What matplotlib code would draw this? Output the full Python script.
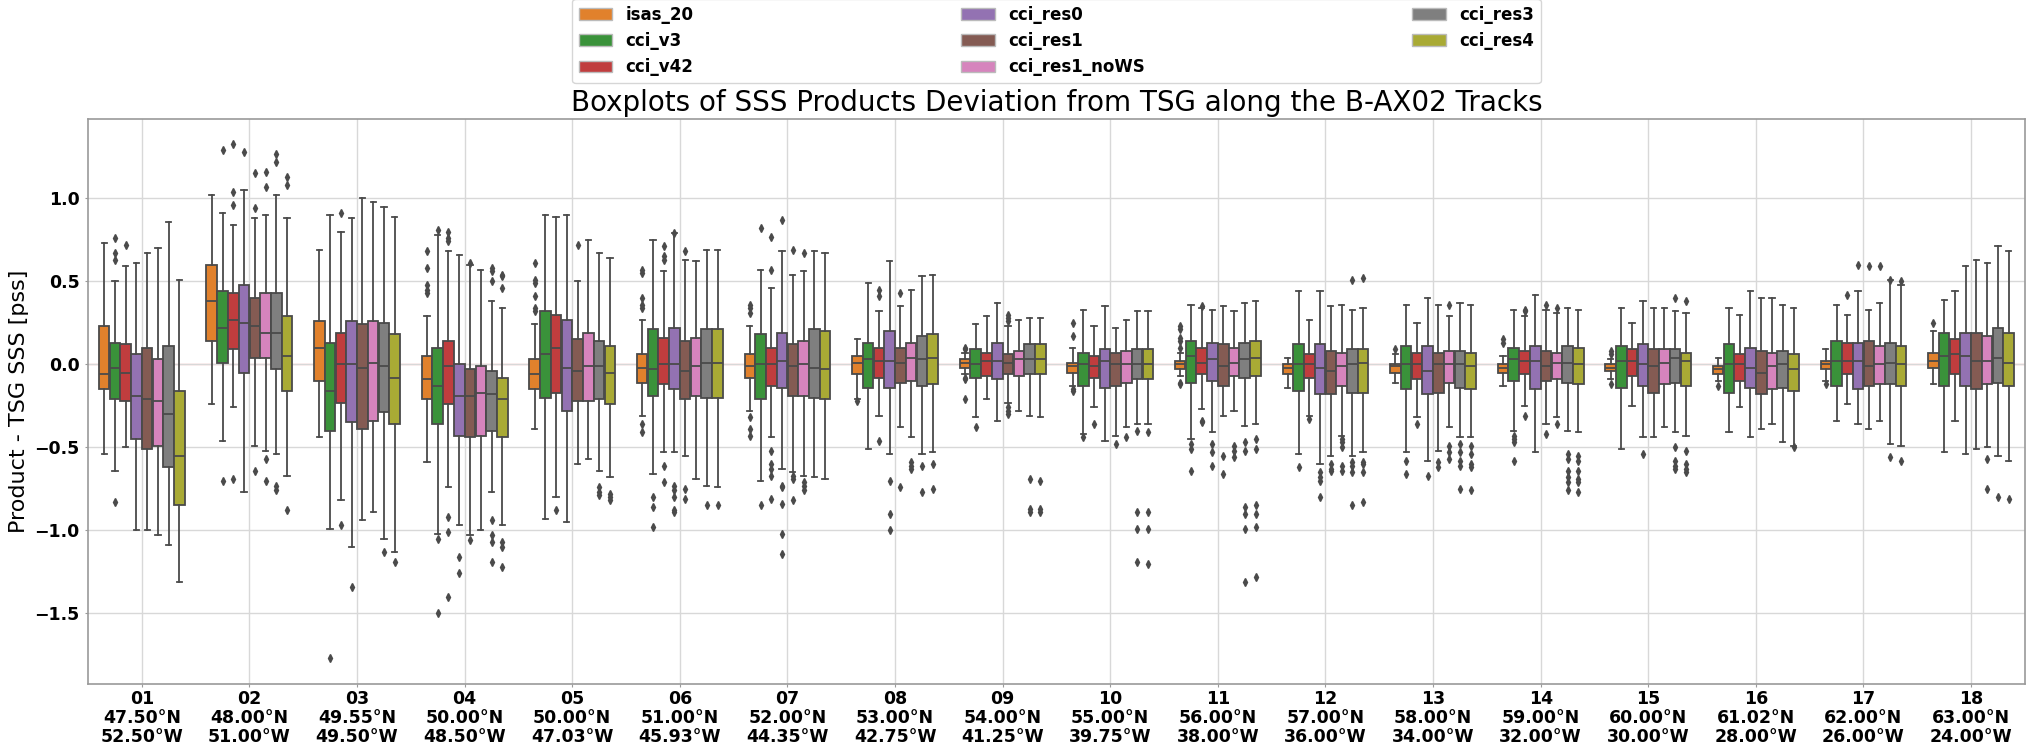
import numpy as np
import matplotlib
matplotlib.use("Agg")
import matplotlib.pyplot as plt
from matplotlib.patches import Patch

# -- Products and tracks --
PRODUCTS = ["isas_20", "cci_v3", "cci_v42", "cci_res0",
            "cci_res1", "cci_res1_noWS", "cci_res3", "cci_res4"]
COLORS = ["#e1812c", "#3a923a", "#c03d3e", "#9372b2",
          "#845b53", "#d684bd", "#7f7f7f", "#a9aa35"]

TRACKS = ["01", "02", "03", "04", "05", "06", "07", "08", "09",
          "10", "11", "12", "13", "14", "15", "16", "17", "18"]
LATS = ["47.50°N", "48.00°N", "49.55°N", "50.00°N", "50.00°N", "51.00°N",
        "52.00°N", "53.00°N", "54.00°N", "55.00°N", "56.00°N", "57.00°N",
        "58.00°N", "59.00°N", "60.00°N", "61.02°N", "62.00°N", "63.00°N"]
LONS = ["52.50°W", "51.00°W", "49.50°W", "48.50°W", "47.03°W", "45.93°W",
        "44.35°W", "42.75°W", "41.25°W", "39.75°W", "38.00°W", "36.00°W",
        "34.00°W", "32.00°W", "30.00°W", "28.00°W", "26.00°W", "24.00°W"]

# -- Box statistics, one row per track, one column per product --
WHI = [
    [0.73, 0.50, 0.59, 0.61, 0.67, 0.70, 0.86, 0.51],
    [1.02, 0.91, 0.84, 1.05, 0.88, 0.90, 1.02, 0.88],
    [0.69, 0.90, 0.80, 0.88, 1.00, 0.98, 0.95, 0.89],
    [0.29, 0.78, 0.68, 0.66, 0.60, 0.57, 0.38, 0.34],
    [0.24, 0.90, 0.89, 0.90, 0.50, 0.75, 0.67, 0.64],
    [0.27, 0.75, 0.56, 0.79, 0.63, 0.62, 0.69, 0.69],
    [0.23, 0.57, 0.46, 0.68, 0.54, 0.56, 0.68, 0.67],
    [0.15, 0.49, 0.32, 0.62, 0.35, 0.45, 0.53, 0.54],
    [0.07, 0.24, 0.29, 0.37, 0.23, 0.27, 0.28, 0.28],
    [0.10, 0.33, 0.23, 0.35, 0.22, 0.27, 0.32, 0.32],
    [0.07, 0.36, 0.34, 0.33, 0.35, 0.32, 0.37, 0.38],
    [0.04, 0.44, 0.27, 0.44, 0.35, 0.36, 0.33, 0.34],
    [0.06, 0.36, 0.25, 0.40, 0.36, 0.29, 0.37, 0.36],
    [0.05, 0.33, 0.29, 0.42, 0.33, 0.31, 0.34, 0.33],
    [0.03, 0.34, 0.25, 0.38, 0.34, 0.34, 0.32, 0.31],
    [0.04, 0.34, 0.30, 0.44, 0.40, 0.40, 0.36, 0.34],
    [0.09, 0.36, 0.30, 0.44, 0.33, 0.37, 0.51, 0.48],
    [0.20, 0.39, 0.44, 0.59, 0.63, 0.61, 0.71, 0.68],
]
Q3 = [
    [0.23, 0.13, 0.12, 0.06, 0.10, 0.03, 0.11, -0.16],
    [0.60, 0.44, 0.43, 0.48, 0.40, 0.43, 0.43, 0.29],
    [0.26, 0.13, 0.19, 0.26, 0.24, 0.26, 0.25, 0.18],
    [0.05, 0.10, 0.14, 0.00, -0.03, -0.01, -0.04, -0.08],
    [0.03, 0.32, 0.30, 0.27, 0.15, 0.19, 0.14, 0.11],
    [0.06, 0.21, 0.16, 0.22, 0.14, 0.16, 0.21, 0.21],
    [0.06, 0.18, 0.10, 0.19, 0.12, 0.14, 0.21, 0.20],
    [0.05, 0.13, 0.10, 0.20, 0.10, 0.13, 0.17, 0.18],
    [0.03, 0.09, 0.07, 0.13, 0.06, 0.08, 0.12, 0.12],
    [0.01, 0.07, 0.05, 0.09, 0.07, 0.08, 0.09, 0.09],
    [0.02, 0.14, 0.10, 0.13, 0.12, 0.10, 0.13, 0.14],
    [0.00, 0.12, 0.06, 0.12, 0.08, 0.07, 0.09, 0.09],
    [0.00, 0.11, 0.07, 0.11, 0.07, 0.08, 0.08, 0.07],
    [0.00, 0.10, 0.08, 0.11, 0.08, 0.07, 0.11, 0.10],
    [0.00, 0.11, 0.09, 0.12, 0.09, 0.09, 0.09, 0.07],
    [-0.01, 0.12, 0.06, 0.10, 0.08, 0.07, 0.08, 0.06],
    [0.02, 0.14, 0.13, 0.13, 0.14, 0.11, 0.13, 0.11],
    [0.07, 0.19, 0.15, 0.19, 0.19, 0.17, 0.22, 0.19],
]
MED = [
    [-0.06, -0.02, -0.05, -0.19, -0.21, -0.22, -0.30, -0.55],
    [0.38, 0.22, 0.27, 0.25, 0.23, 0.19, 0.19, 0.05],
    [0.10, -0.16, 0.00, 0.00, -0.02, 0.01, -0.01, -0.08],
    [-0.09, -0.13, -0.01, -0.19, -0.19, -0.17, -0.18, -0.21],
    [-0.06, 0.06, 0.10, -0.02, -0.04, -0.01, -0.01, -0.05],
    [-0.02, -0.03, 0.00, 0.00, -0.04, -0.01, 0.01, 0.01],
    [-0.01, 0.00, 0.00, 0.02, -0.01, 0.00, -0.02, -0.03],
    [0.01, 0.03, 0.02, 0.02, 0.01, 0.04, 0.03, 0.04],
    [0.01, 0.00, 0.02, 0.02, 0.01, 0.03, 0.03, 0.03],
    [-0.01, 0.00, -0.01, 0.02, 0.00, 0.00, 0.00, 0.00],
    [0.00, 0.05, 0.01, 0.03, -0.01, 0.01, 0.03, 0.04],
    [-0.02, 0.00, 0.00, -0.02, -0.04, -0.01, 0.00, 0.01],
    [-0.01, 0.00, 0.00, -0.04, 0.00, 0.00, 0.00, -0.01],
    [-0.02, 0.03, 0.02, 0.02, -0.01, 0.01, 0.01, 0.00],
    [-0.02, 0.02, 0.02, 0.00, -0.01, 0.01, 0.04, 0.02],
    [-0.03, 0.00, 0.00, -0.02, -0.05, -0.01, 0.00, -0.03],
    [0.00, 0.02, 0.02, 0.02, -0.01, 0.00, 0.01, 0.00],
    [0.02, 0.05, 0.06, 0.05, 0.02, 0.02, 0.04, 0.01],
]
Q1 = [
    [-0.15, -0.21, -0.22, -0.45, -0.51, -0.49, -0.62, -0.85],
    [0.14, 0.01, 0.09, -0.05, 0.04, 0.04, -0.03, -0.16],
    [-0.10, -0.40, -0.23, -0.35, -0.39, -0.34, -0.29, -0.36],
    [-0.21, -0.36, -0.24, -0.43, -0.44, -0.43, -0.40, -0.44],
    [-0.15, -0.20, -0.17, -0.28, -0.22, -0.22, -0.21, -0.24],
    [-0.11, -0.19, -0.12, -0.15, -0.21, -0.19, -0.20, -0.20],
    [-0.08, -0.21, -0.13, -0.14, -0.19, -0.19, -0.20, -0.21],
    [-0.06, -0.14, -0.08, -0.14, -0.11, -0.10, -0.13, -0.12],
    [-0.02, -0.08, -0.07, -0.09, -0.06, -0.07, -0.06, -0.06],
    [-0.05, -0.13, -0.08, -0.14, -0.13, -0.11, -0.09, -0.09],
    [-0.03, -0.11, -0.06, -0.10, -0.13, -0.07, -0.08, -0.07],
    [-0.06, -0.16, -0.08, -0.18, -0.18, -0.13, -0.17, -0.17],
    [-0.05, -0.15, -0.09, -0.18, -0.17, -0.11, -0.14, -0.15],
    [-0.05, -0.10, -0.06, -0.15, -0.10, -0.09, -0.11, -0.12],
    [-0.04, -0.14, -0.07, -0.13, -0.17, -0.12, -0.11, -0.13],
    [-0.06, -0.17, -0.10, -0.14, -0.18, -0.15, -0.14, -0.16],
    [-0.03, -0.13, -0.06, -0.15, -0.13, -0.12, -0.12, -0.13],
    [-0.02, -0.13, -0.06, -0.13, -0.15, -0.12, -0.11, -0.13],
]
WLO = [
    [-0.54, -0.64, -0.50, -1.00, -1.00, -1.03, -1.09, -1.31],
    [-0.24, -0.46, -0.26, -0.77, -0.49, -0.52, -0.54, -0.67],
    [-0.44, -0.99, -0.82, -1.10, -0.94, -0.89, -1.05, -1.13],
    [-0.59, -1.02, -0.74, -0.97, -1.03, -1.00, -0.77, -0.97],
    [-0.39, -0.93, -0.80, -0.95, -0.60, -0.57, -0.64, -0.68],
    [-0.31, -0.66, -0.53, -0.53, -0.55, -0.69, -0.73, -0.74],
    [-0.28, -0.70, -0.44, -0.63, -0.65, -0.67, -0.68, -0.69],
    [-0.21, -0.51, -0.31, -0.54, -0.38, -0.44, -0.54, -0.53],
    [-0.06, -0.32, -0.21, -0.34, -0.23, -0.28, -0.31, -0.32],
    [-0.13, -0.42, -0.26, -0.46, -0.43, -0.38, -0.36, -0.36],
    [-0.07, -0.45, -0.27, -0.41, -0.31, -0.28, -0.37, -0.36],
    [-0.14, -0.54, -0.31, -0.60, -0.55, -0.43, -0.55, -0.53],
    [-0.11, -0.53, -0.32, -0.58, -0.52, -0.38, -0.44, -0.44],
    [-0.13, -0.40, -0.25, -0.53, -0.36, -0.32, -0.40, -0.41],
    [-0.09, -0.51, -0.25, -0.44, -0.44, -0.38, -0.41, -0.43],
    [-0.10, -0.41, -0.26, -0.44, -0.39, -0.36, -0.47, -0.49],
    [-0.10, -0.34, -0.24, -0.36, -0.39, -0.34, -0.48, -0.49],
    [-0.12, -0.53, -0.34, -0.54, -0.51, -0.50, -0.55, -0.58],
]

# outliers keyed by (track index, product index)
FLIERS = {
    (0, 1): [0.76, 0.67, 0.63, -0.83], (0, 2): [0.72],
    (1, 1): [1.29, -0.70], (1, 2): [1.33, 1.04, 0.96, -0.69], (1, 3): [1.28],
    (1, 4): [1.15, 0.94, -0.64], (1, 5): [1.16, 1.07, -0.57, -0.70],
    (1, 6): [1.27, 1.22, -0.73, -0.76], (1, 7): [1.13, 1.08, -0.88],
    (2, 1): [-1.77], (2, 2): [0.91, -0.97], (2, 3): [-1.34],
    (2, 6): [-1.13], (2, 7): [-1.19],
    (3, 0): [0.68, 0.58, 0.48, 0.45, 0.43], (3, 1): [0.81, -1.05, -1.50],
    (3, 2): [0.80, 0.76, 0.74, -0.92, -1.01, -1.40], (3, 3): [-1.16, -1.26],
    (3, 4): [0.61, -1.06], (3, 6): [0.58, 0.56, 0.50, -0.94, -1.03, -1.07, -1.19],
    (3, 7): [0.54, 0.53, 0.46, -1.07, -1.10, -1.22],
    (4, 0): [0.61, 0.51, 0.49, 0.41, 0.34, 0.32], (4, 2): [-0.88], (4, 4): [0.72],
    (4, 6): [-0.74, -0.77, -0.79], (4, 7): [-0.78, -0.80, -0.82],
    (5, 0): [0.57, 0.55, 0.40, 0.36, 0.34, -0.36, -0.41], (5, 1): [-0.80, -0.86, -0.98],
    (5, 2): [0.71, 0.65, 0.63, -0.61, -0.71],
    (5, 3): [0.79, -0.73, -0.76, -0.80, -0.88, -0.89], (5, 4): [0.68, -0.75, -0.81],
    (5, 6): [-0.85], (5, 7): [-0.85],
    (6, 0): [0.36, 0.34, 0.31, -0.32, -0.39, -0.43], (6, 1): [0.82, -0.85],
    (6, 2): [0.77, 0.57, -0.52, -0.60, -0.63, -0.67, -0.81],
    (6, 3): [0.87, -0.73, -0.74, -0.84, -1.02, -1.14], (6, 4): [0.69, -0.67, -0.69, -0.82],
    (6, 5): [0.67, -0.71, -0.73, -0.76],
    (7, 0): [-0.22], (7, 2): [0.45, 0.41, -0.46], (7, 3): [-0.70, -0.90, -1.00],
    (7, 4): [0.43, -0.74], (7, 5): [-0.59, -0.61, -0.63], (7, 6): [-0.61, -0.77],
    (7, 7): [-0.60, -0.75],
    (8, 0): [0.10, 0.09, -0.08, -0.09, -0.21], (8, 1): [-0.38],
    (8, 4): [0.30, 0.28, 0.26, -0.26, -0.28, -0.30], (8, 6): [-0.69, -0.87, -0.89],
    (8, 7): [-0.70, -0.87, -0.89],
    (9, 0): [0.25, 0.17, -0.15, -0.16], (9, 1): [-0.44], (9, 2): [-0.36], (9, 4): [-0.48],
    (9, 5): [-0.44], (9, 6): [-0.40, -0.89, -0.99, -1.19], (9, 7): [-0.41, -0.89, -0.99, -1.20],
    (10, 0): [0.23, 0.21, 0.16, 0.14, 0.10, -0.11, -0.12], (10, 1): [-0.48, -0.51, -0.64],
    (10, 2): [0.35, -0.34, -0.35], (10, 3): [-0.48, -0.53, -0.61], (10, 4): [-0.55, -0.66],
    (10, 5): [-0.49, -0.52, -0.56], (10, 6): [-0.47, -0.52, -0.86, -0.90, -0.99, -1.31],
    (10, 7): [-0.45, -0.51, -0.85, -0.90, -0.98, -1.28],
    (11, 1): [-0.62], (11, 2): [-0.33], (11, 3): [-0.65, -0.68, -0.70, -0.80],
    (11, 4): [-0.60, -0.63, -0.64], (11, 5): [-0.45, -0.47, -0.50, -0.61, -0.64],
    (11, 6): [0.51, -0.59, -0.61, -0.65, -0.85], (11, 7): [0.52, -0.59, -0.60, -0.65, -0.83],
    (12, 0): [0.09], (12, 1): [-0.58, -0.66], (12, 2): [-0.36], (12, 3): [-0.67],
    (12, 4): [-0.59, -0.62], (12, 5): [0.36, -0.49, -0.53, -0.57],
    (12, 6): [-0.48, -0.53, -0.58, -0.61, -0.75], (12, 7): [-0.49, -0.54, -0.60, -0.62, -0.76],
    (13, 0): [0.15, 0.13], (13, 1): [-0.43, -0.45, -0.47, -0.58], (13, 2): [0.33, 0.32, -0.31],
    (13, 4): [0.36, -0.42], (13, 5): [0.34, -0.36],
    (13, 6): [-0.54, -0.57, -0.64, -0.68, -0.71, -0.76],
    (13, 7): [-0.55, -0.58, -0.64, -0.69, -0.71, -0.77],
    (14, 0): [0.08, 0.06, -0.12], (14, 3): [-0.54],
    (14, 6): [0.40, -0.50, -0.58, -0.61, -0.63], (14, 7): [0.38, -0.52, -0.60, -0.63, -0.65],
    (15, 0): [-0.13], (15, 7): [-0.50],
    (16, 0): [-0.12], (16, 2): [0.42], (16, 3): [0.60], (16, 4): [0.59], (16, 5): [0.59],
    (16, 6): [0.51, -0.56], (16, 7): [0.50, -0.58],
    (17, 0): [0.25], (17, 5): [-0.57, -0.75], (17, 6): [-0.80], (17, 7): [-0.81],
}

LINE_GRAY = "#4a4a4a"
n_prod = len(PRODUCTS)
group_w = 0.8
slot = group_w / n_prod

fig = plt.figure(figsize=(20.33, 7.47), dpi=100)
ax = fig.add_axes([0.0433, 0.0843, 0.9527, 0.7564])

for j, (name, color) in enumerate(zip(PRODUCTS, COLORS)):
    stats = []
    for i in range(len(TRACKS)):
        stats.append(dict(med=MED[i][j], q1=Q1[i][j], q3=Q3[i][j],
                          whislo=WLO[i][j], whishi=WHI[i][j],
                          fliers=FLIERS.get((i, j), [])))
    pos = np.arange(len(TRACKS)) - group_w / 2 + slot * (j + 0.5)
    ax.bxp(stats, positions=pos, widths=slot * 0.98, patch_artist=True,
           manage_ticks=False,
           boxprops=dict(facecolor=color, edgecolor=LINE_GRAY, linewidth=1.3),
           medianprops=dict(color=LINE_GRAY, linewidth=1.3),
           whiskerprops=dict(color=LINE_GRAY, linewidth=1.3),
           capprops=dict(color=LINE_GRAY, linewidth=1.3),
           flierprops=dict(marker="d", markersize=4, markerfacecolor=LINE_GRAY,
                           markeredgecolor=LINE_GRAY))

ax.axhline(0, color="red", alpha=0.45, lw=0.9, zorder=0.5)

ax.set_xlim(-0.5, len(TRACKS) - 0.5)
ax.set_ylim(-1.926, 1.478)
ax.set_xticks(np.arange(len(TRACKS)))
ax.set_xticklabels([f"{t}\n{la}\n{lo}" for t, la, lo in zip(TRACKS, LATS, LONS)],
                   fontsize=12.5, fontweight="bold", linespacing=1.05)
for lbl in ax.get_yticklabels():
    lbl.set_fontsize(12.5)
    lbl.set_fontweight("bold")

ax.grid(True, color="#d8d8d8", lw=1)
ax.set_axisbelow(True)
for sp in ax.spines.values():
    sp.set_color("#9a9a9a")
    sp.set_linewidth(1.2)
ax.tick_params(colors="#9a9a9a", labelcolor="black", length=2.5)
ax.tick_params(axis="x", pad=2)

ax.set_ylabel("Product - TSG SSS [pss]", fontsize=16)
ax.set_title("Boxplots of SSS Products Deviation from TSG along the B-AX02 Tracks",
             fontsize=20)

handles = [Patch(facecolor=c, edgecolor="#bbbbbb", label=p)
           for p, c in zip(PRODUCTS, COLORS)]
ax.legend(handles=handles, loc="lower left", bbox_to_anchor=(0.25, 1.064, 0.5, 0.1),
          ncol=3, mode="expand", prop=dict(weight="bold", size=12),
          borderaxespad=0)

fig.savefig("out.png", dpi=100)
